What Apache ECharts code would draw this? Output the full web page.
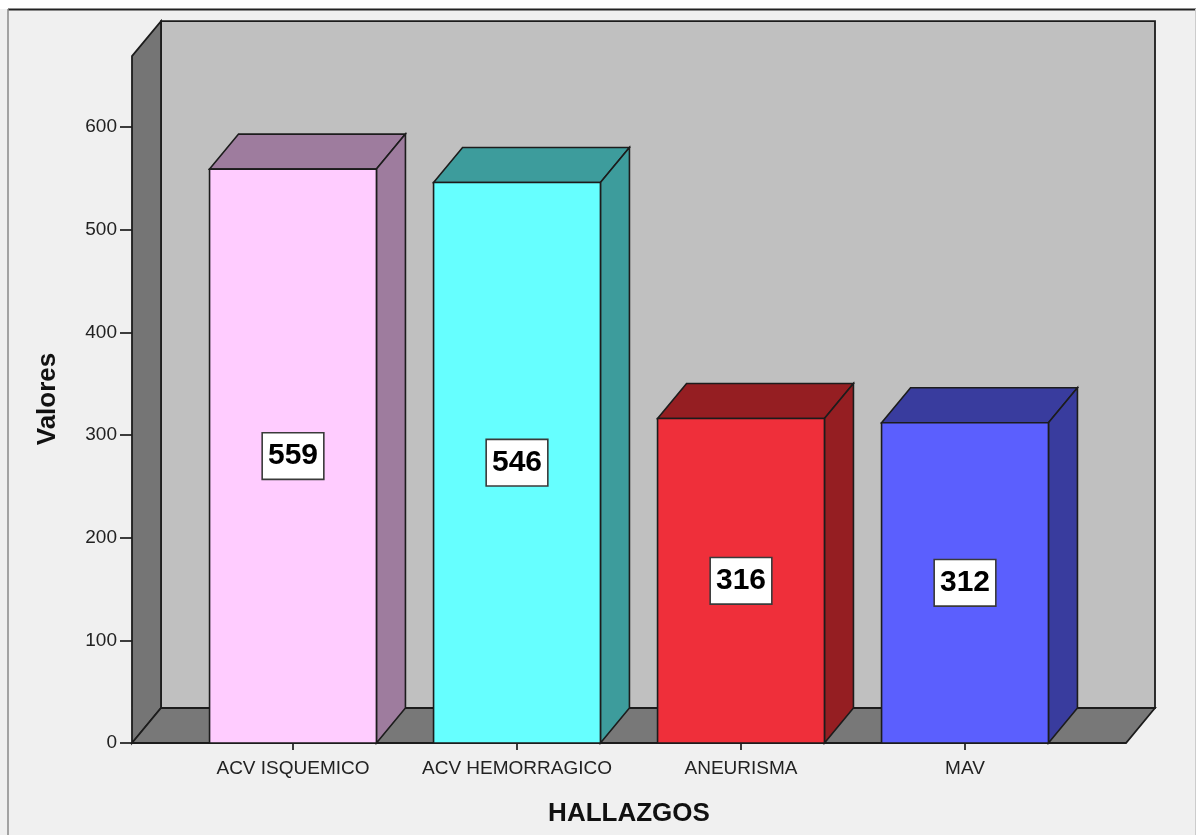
<!DOCTYPE html>
<html>
<head>
<meta charset="utf-8">
<title>HALLAZGOS</title>
<script src="https://cdn.jsdelivr.net/npm/echarts@6/dist/echarts.min.js"></script>
<style>
  html, body { margin: 0; padding: 0; background: #ffffff; }
  #chart { width: 1196px; height: 835px; }
</style>
</head>
<body>
<div id="chart"></div>
<script>
// Findings and their counts
const categories = ['ACV ISQUEMICO', 'ACV HEMORRAGICO', 'ANEURISMA', 'MAV'];
const values = [559, 546, 316, 312];
const yTicks = [0, 100, 200, 300, 400, 500, 600];

// Palette: front faces and the darker top/side faces of each bar
const frontColors = ['#ffccff', '#66ffff', '#ef2f3a', '#5b5ffe'];
const shadeColors = ['#9e7c9e', '#3d9c9c', '#951e22', '#393c9e'];

// 3D look
const DX = 29;          // depth offset to the right (px)
const DY = 35;          // depth offset upwards (px)
const WALL_TOP = 669;   // height of the walls in axis units
const SIDE_PAD = 49;    // floor overhang beyond the category band (px)
const EDGE = '#1c1c1c';
const FONT = '"Liberation Sans", Arial, sans-serif';

const chart = echarts.init(document.getElementById('chart'), null, { renderer: 'canvas' });

function renderRoom(params, api) {
  const cs = params.coordSys;
  const x0 = cs.x - SIDE_PAD;
  const x1 = cs.x + cs.width + SIDE_PAD;
  const yb = api.coord([0, 0])[1];
  const yt = api.coord([0, WALL_TOP])[1];
  const edge = { stroke: EDGE, lineWidth: 1.8 };
  return {
    type: 'group',
    children: [
      { type: 'rect', shape: { x: x0 + DX, y: yt - DY, width: x1 - x0, height: yb - yt },
        style: Object.assign({ fill: '#c0c0c0' }, edge) },
      { type: 'polygon', shape: { points: [[x0, yb], [x0, yt], [x0 + DX, yt - DY], [x0 + DX, yb - DY]] },
        style: Object.assign({ fill: '#757575' }, edge) },
      { type: 'polygon', shape: { points: [[x0, yb], [x0 + DX, yb - DY], [x1 + DX, yb - DY], [x1, yb]] },
        style: Object.assign({ fill: '#787878' }, edge) }
    ]
  };
}

function renderBar(params, api) {
  const i = api.value(0);
  const v = api.value(1);
  const base = api.coord([i, 0]);
  const top = api.coord([i, v]);
  const mid = api.coord([i, v / 2]);
  const w = api.size([1, 0])[0] * 0.745;
  const xl = base[0] - w / 2;
  const xr = base[0] + w / 2;
  const yb = base[1];
  const yt = top[1];
  const edge = { stroke: EDGE, lineWidth: 1.6 };
  return {
    type: 'group',
    children: [
      { type: 'polygon', shape: { points: [[xl, yt], [xl + DX, yt - DY], [xr + DX, yt - DY], [xr, yt]] },
        style: Object.assign({ fill: shadeColors[i] }, edge) },
      { type: 'polygon', shape: { points: [[xr, yt], [xr + DX, yt - DY], [xr + DX, yb - DY], [xr, yb]] },
        style: Object.assign({ fill: shadeColors[i] }, edge) },
      { type: 'rect', shape: { x: xl, y: yt, width: w, height: yb - yt },
        style: Object.assign({ fill: frontColors[i] }, edge) },
      { type: 'text', x: base[0], y: mid[1],
        style: {
          text: String(v), align: 'center', verticalAlign: 'middle',
          font: 'bold 30px ' + FONT, fill: '#000',
          backgroundColor: '#ffffff', borderColor: '#3a3a3a', borderWidth: 1.6,
          padding: [8, 5, 7, 5]
        } }
    ]
  };
}

const option = {
  backgroundColor: '#f0f0f0',
  animation: false,
  grid: { left: 181, right: 119, top: 127, bottom: 92 },
  xAxis: {
    type: 'category',
    data: categories,
    axisLine: { show: false },
    axisTick: { show: true, alignWithLabel: true, length: 7, lineStyle: { color: '#000', width: 1.5 } },
    axisLabel: { interval: 0, fontSize: 19, color: '#222', fontFamily: FONT, margin: 16 },
    splitLine: { show: false }
  },
  yAxis: {
    type: 'value',
    min: yTicks[0],
    max: yTicks[yTicks.length - 1],
    interval: yTicks[1] - yTicks[0],
    offset: SIDE_PAD,
    axisLine: { show: false },
    axisTick: { show: true, length: 12, lineStyle: { color: '#000', width: 1.5 } },
    axisLabel: { fontSize: 19, color: '#222', fontFamily: FONT, margin: 15 },
    splitLine: { show: false }
  },
  graphic: [
    { type: 'rect', left: 0, top: 0, shape: { width: 1196, height: 9 }, style: { fill: '#ffffff' }, z: 100 },
    { type: 'line', shape: { x1: 8, y1: 9.5, x2: 1196, y2: 9.5 }, style: { stroke: '#222', lineWidth: 2 }, z: 100 },
    { type: 'line', shape: { x1: 8, y1: 9, x2: 8, y2: 835 }, style: { stroke: '#8a8a8a', lineWidth: 1.5 }, z: 100 },
    { type: 'line', shape: { x1: 1195.5, y1: 9, x2: 1195.5, y2: 835 }, style: { stroke: '#cccccc', lineWidth: 1 }, z: 100 },
    { type: 'text', x: 48, y: 399, rotation: Math.PI / 2,
      style: { text: 'Valores', font: 'bold 26px ' + FONT, fill: '#111', align: 'center', verticalAlign: 'middle' } },
    { type: 'text', x: 629, y: 814,
      style: { text: 'HALLAZGOS', font: 'bold 26px ' + FONT, fill: '#111', align: 'center', verticalAlign: 'middle' } }
  ],
  series: [
    {
      type: 'custom',
      name: 'room',
      renderItem: renderRoom,
      data: [[0, 0]],
      z: 1,
      silent: true
    },
    {
      type: 'custom',
      name: 'HALLAZGOS',
      renderItem: renderBar,
      data: values.map((v, i) => [i, v]),
      z: 3
    }
  ]
};

chart.setOption(option);
</script>
</body>
</html>
